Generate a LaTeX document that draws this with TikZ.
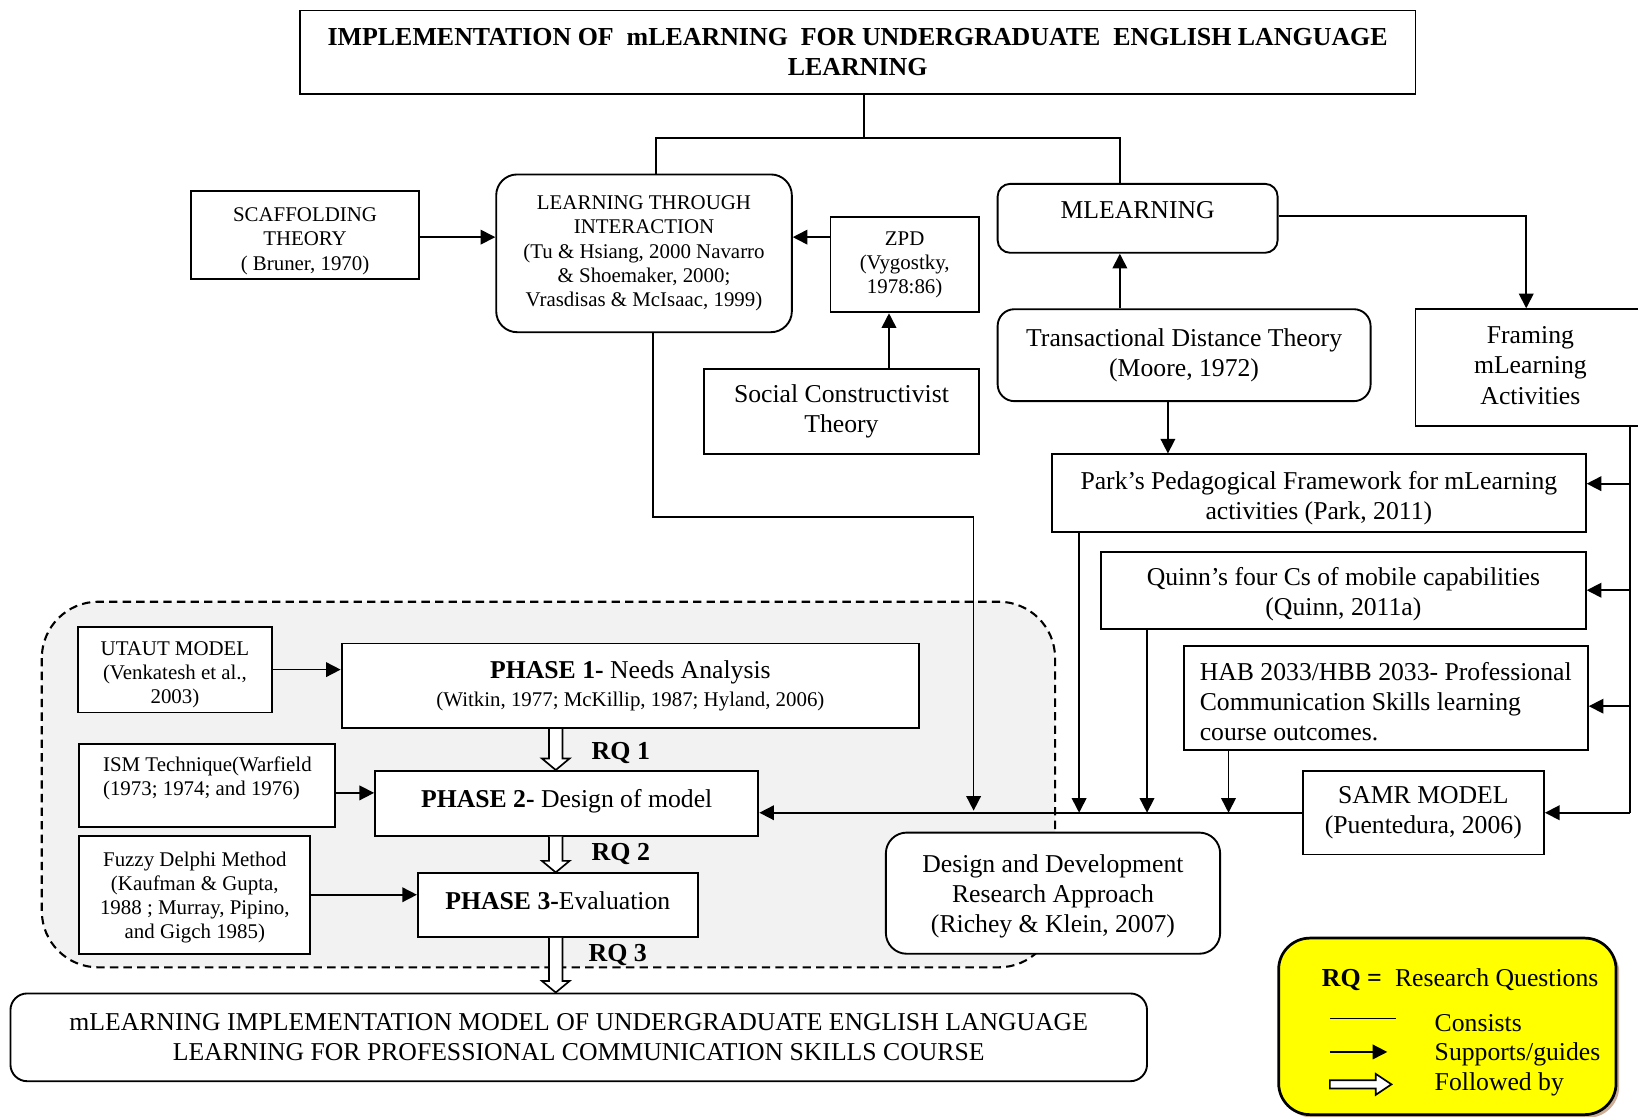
\documentclass[tikz,border=0pt]{standalone}
\usepackage{fontspec}
\setmainfont{Liberation Serif}
\usetikzlibrary{arrows.meta,calc,shadows}

\definecolor{regionfill}{gray}{0.95}
\definecolor{legendyellow}{RGB}{255,255,0}
\definecolor{shadowtan}{RGB}{170,120,80}

\tikzset{
  bigtxt/.style={font=\fontsize{12.3}{14.5}\selectfont},
  smalltxt/.style={font=\fontsize{10}{11.5}\selectfont},
  titletxt/.style={font=\fontsize{12.4}{14.5}\selectfont\bfseries},
  box/.style={draw, line width=0.9pt, fill=white, inner sep=0pt, align=center},
  rbox/.style={box, rounded corners=10pt},
  lbl/.style={inner sep=0pt, anchor=base west},
  conn/.style={line width=0.8pt},
  arr/.style={conn, -{Triangle[length=7pt,width=7pt]}},
  hollow/.style={draw, line width=0.8pt, fill=white, line join=miter},
}

% hollow "followed by" arrow pointing down, from #1 to its tip at #2
\newcommand{\hollowdown}[2]{%
  \draw[hollow] let \p1=(#1), \p2=(#2) in
    (\x1-3.2pt,\y1) -- (\x1-3.2pt,\y2+5.5pt) -- (\x1-6.6pt,\y2+5.5pt) -- (\x1,\y2)
    -- (\x1+6.6pt,\y2+5.5pt) -- (\x1+3.2pt,\y2+5.5pt) -- (\x1+3.2pt,\y1);}

\begin{document}
\begin{tikzpicture}[x=0.5pt,y=-0.5pt]
\useasboundingbox (0,0) rectangle (1568,1069);
\begin{scope}
\clip (0,0) rectangle (1568,1069);

% dashed frame around the three phases
\draw[line width=1pt, dash pattern=on 4pt off 2.5pt, fill=regionfill, rounded corners=27pt]
  (40,576) rectangle (1010,926);

% ---------- upper part ----------
\node[box, titletxt, minimum width=534pt, minimum height=40pt] (title) at (821,50)
  {IMPLEMENTATION OF\ \ mLEARNING\ \ FOR UNDERGRADUATE\ \ ENGLISH LANGUAGE\\LEARNING};

\node[box, smalltxt, minimum width=109pt, minimum height=42pt, text height=35.6pt] (scaf) at (292,225)
  {SCAFFOLDING\\THEORY\\( Bruner, 1970)};

\node[rbox, smalltxt, minimum width=141.5pt, minimum height=75.5pt] (lti) at (616.5,242.5)
  {LEARNING THROUGH\\INTERACTION\\(Tu \& Hsiang, 2000 Navarro\\\& Shoemaker, 2000;\\Vrasdisas \& McIsaac, 1999)};

\node[box, smalltxt, minimum width=71pt, minimum height=45.5pt] (zpd) at (866,253.5)
  {ZPD\\(Vygostky,\\1978:86)};

\node[box, bigtxt, minimum width=131.5pt, minimum height=41pt] (sct) at (805.5,394)
  {Social Constructivist\\Theory};

\node[box, bigtxt, rounded corners=6pt, minimum width=134pt, minimum height=33pt, text depth=8pt] (mlearn) at (1089,209)
  {MLEARNING};

\node[box, bigtxt, rounded corners=8pt, minimum width=178.5pt, minimum height=44pt] (tdt) at (1133.5,340)
  {Transactional Distance Theory\\(Moore, 1972)};

\node[box, bigtxt, minimum width=110pt, minimum height=56pt, text height=35.1pt] (framing) at (1465,352)
  {Framing\\mLearning\\Activities};

\node[box, bigtxt, minimum width=255.5pt, minimum height=37pt, text height=27.9pt] (park) at (1262.5,472)
  {Park’s Pedagogical Framework for mLearning\\activities (Park, 2011)};

\node[box, bigtxt, minimum width=232pt, minimum height=37pt, text height=26.9pt] (quinn) at (1286,565)
  {Quinn’s four Cs of mobile capabilities\\(Quinn, 2011a)};

\node[box, bigtxt, align=left, minimum width=193.5pt, minimum height=50pt, text height=41.4pt] (hab) at (1326.5,668)
  {HAB 2033/HBB 2033- Professional\\Communication Skills learning\\course outcomes.};

\node[box, bigtxt, minimum width=115.5pt, minimum height=40pt] (samr) at (1362.5,778)
  {SAMR MODEL\\(Puentedura, 2006)};

\node[rbox, bigtxt, minimum width=160pt, minimum height=58pt, text height=40.4pt] (ddr) at (1008,855)
  {Design and Development\\Research Approach\\(Richey \& Klein, 2007)};

% ---------- phases ----------
\node[box, smalltxt, minimum width=92.5pt, minimum height=41pt, text height=34.6pt] (utaut) at (167.5,641)
  {UTAUT MODEL\\(Venkatesh et al.,\\2003)};

\node[box, bigtxt, minimum width=276.5pt, minimum height=40.5pt] (p1) at (603.5,656.5)
  {\textbf{PHASE 1-} Needs Analysis\\[-1.5pt]{\fontsize{10}{11.5}\selectfont(Witkin, 1977; McKillip, 1987; Hyland, 2006)}};

\node[box, smalltxt, align=left, minimum width=122.5pt, minimum height=40pt, text depth=9pt] (ism) at (198.5,752)
  {ISM Technique(Warfield\\(1973; 1974; and 1976)};

\node[box, bigtxt, minimum width=183.5pt, minimum height=31pt, text depth=4.7pt] (p2) at (542.5,769)
  {\textbf{PHASE 2-} Design of model};

\node[box, smalltxt, minimum width=110.5pt, minimum height=56.5pt, text height=44.3pt] (fuzzy) at (186.5,856.5)
  {Fuzzy Delphi Method\\(Kaufman \& Gupta,\\1988 ; Murray, Pipino,\\and Gigch 1985)};

\node[box, bigtxt, minimum width=134pt, minimum height=30.5pt, text depth=4pt] (p3) at (534,866.5)
  {\textbf{PHASE 3-}Evaluation};

\node[box, bigtxt, rounded corners=8pt, minimum width=544pt, minimum height=42pt] (final) at (554,993)
  {mLEARNING IMPLEMENTATION MODEL OF UNDERGRADUATE ENGLISH LANGUAGE\\LEARNING FOR PROFESSIONAL COMMUNICATION SKILLS COURSE};

\node[lbl, titletxt] (rq1) at (566,727) {RQ 1};
\node[lbl, titletxt] (rq2) at (566,824) {RQ 2};
\node[lbl, titletxt] (rq3) at (563,920) {RQ 3};

% ---------- connectors ----------
\coordinate (tj) at (827,132);
\coordinate (xa) at (628,0);
\coordinate (xb) at (1072,0);
\coordinate (xc) at (1118,0);
\coordinate (xd) at (1461,0);
\coordinate (xe) at (851,0);
\coordinate (yl) at (0,227);
\coordinate (spine) at (1560,0);
\coordinate (dA) at (1033,0);
\coordinate (dB) at (1098,0);
\coordinate (dC) at (1176,0);
\coordinate (lturn) at (625,495);
\coordinate (lend) at (932,776);
\coordinate (ha) at (532,0);

\draw[conn] (title.south -| tj) -- (tj);
\draw[conn] (lti.north -| xa) |- (tj) -| (mlearn.north -| xb);

\draw[arr] (scaf.east |- yl) -- (lti.west |- yl);
\draw[arr] (zpd.west |- yl) -- (lti.east |- yl);
\draw[arr] (sct.north -| xe) -- (xe |- zpd.south);
\draw[arr] (tdt.north -| xb) -- (xb |- mlearn.south);
\draw[arr] (tdt.south -| xc) -- (xc |- park.north);
\draw[arr] ($(mlearn.east)+(0,1pt)$) -| (xd |- framing.north);

\draw[conn] (framing.south -| spine) -- (spine |- samr.east);
\draw[arr] ($(park.east -| spine)+(0,4.5pt)$) -- ($(park.east)+(0,4.5pt)$);
\draw[arr] (quinn.east -| spine) -- (quinn.east);
\draw[arr] ($(hab.east -| spine)+(0,-4pt)$) -- ($(hab.east)+(0,-4pt)$);
\draw[arr] (samr.east -| spine) -- (samr.east);

\draw[arr] (samr.west) -- (samr.west -| p2.east);
\draw[arr] (park.south -| dA) -- (dA |- samr.west);
\draw[arr] (quinn.south -| dB) -- (dB |- samr.west);
\draw[arr] (hab.south -| dC) -- (dC |- samr.west);
\draw[arr] (lti.south -| lturn) -- (lturn) -| (lend);

\draw[arr] (utaut.east) -- (utaut.east -| p1.west);
\draw[arr] ($(ism.east)+(0,-3.5pt)$) -- ($(ism.east -| p2.west)+(0,-3.5pt)$);
\draw[arr] (fuzzy.east) -- (fuzzy.east -| p3.west);

\hollowdown{p1.south -| ha}{p2.north -| ha}
\hollowdown{p2.south -| ha}{p3.north -| ha}
\hollowdown{p3.south -| ha}{final.north -| ha}

% ---------- legend ----------
\node[draw, line width=1.3pt, fill=legendyellow, rounded corners=15pt,
      minimum width=161.5pt, minimum height=84.5pt,
      drop shadow={shadow xshift=1.5pt, shadow yshift=-1.5pt, fill=shadowtan, opacity=0.6}]
  (legend) at (1385.5,982.5) {};

\node[lbl, titletxt] (rqkey) at (1265,944) {RQ =};
\node[lbl, bigtxt] (rqdef) at (1335,944) {Research Questions};
\node[lbl, bigtxt] (keyc) at (1373,987) {Consists};
\node[lbl, bigtxt] (keys) at (1373,1015) {Supports/guides};
\node[lbl, bigtxt] (keyf) at (1373,1044) {Followed by};

\coordinate (k1a) at (1273,975);
\coordinate (k1b) at (1336,975);
\coordinate (k2a) at (1273,1007);
\coordinate (k2b) at (1328,1007);
\coordinate (k3a) at (1273,1038);
\coordinate (k3b) at (1332,1038);
\draw[conn] (k1a) -- (k1b);
\draw[arr] (k2a) -- (k2b);
\draw[hollow] let \p1=(k3a), \p2=(k3b) in
  (\x1,\y1+2pt) -- (\x2-7.5pt,\y1+2pt) -- (\x2-7.5pt,\y1+5pt) -- (\x2,\y1)
  -- (\x2-7.5pt,\y1-5pt) -- (\x2-7.5pt,\y1-2pt) -- (\x1,\y1-2pt) -- cycle;

\end{scope}
\end{tikzpicture}
\end{document}
